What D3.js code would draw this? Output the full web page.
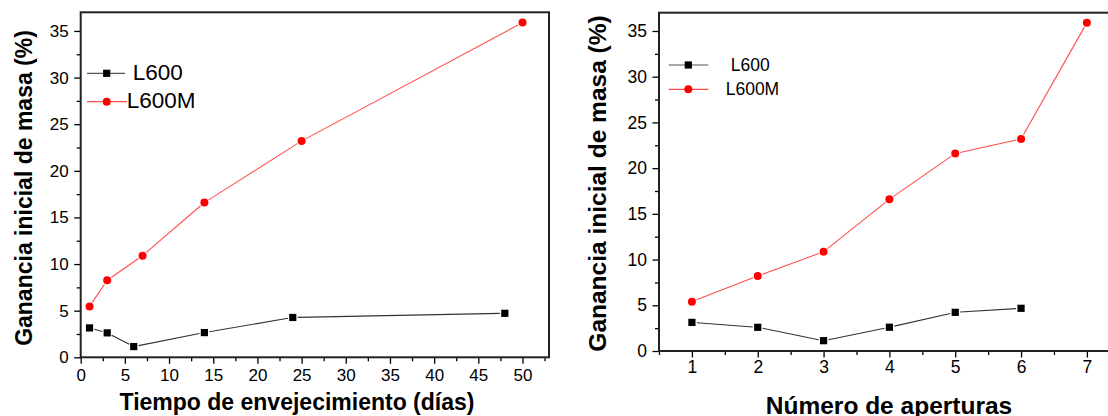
<!DOCTYPE html>
<html>
<head>
<meta charset="utf-8">
<script src="https://cdn.jsdelivr.net/npm/d3@7"></script>
<style>
  html, body { margin: 0; padding: 0; background: #fff; overflow: hidden; }
  svg { display: block; }
  text { font-family: "Liberation Sans", Arial, sans-serif; fill: #000; }
</style>
</head>
<body>
<svg id="chart" width="1108" height="416"></svg>
<script>
// ---------------- DATA ----------------
// Left panel: ageing time (days)
const daysL600 = [1, 3, 6, 14, 24, 48];
const gainDaysL600 = [3.15, 2.62, 1.15, 2.65, 4.27, 4.72];
const daysL600M = [1, 3, 7, 14, 25, 50];
const gainDaysL600M = [5.45, 8.25, 10.9, 16.6, 23.2, 35.9];
const daysTicks = [0, 5, 10, 15, 20, 25, 30, 35, 40, 45, 50];

// Right panel: number of openings
const openL600 = [1, 2, 3, 4, 5, 6];
const gainOpenL600 = [3.13, 2.59, 1.13, 2.6, 4.23, 4.67];
const openL600M = [1, 2, 3, 4, 5, 6, 7];
const gainOpenL600M = [5.4, 8.2, 10.85, 16.6, 21.6, 23.2, 35.9];
const openTicks = [1, 2, 3, 4, 5, 6, 7];

const yTicks = [0, 5, 10, 15, 20, 25, 30, 35];
const seriesNames = ["L600", "L600M"];
const yTitle = "Ganancia inicial de masa (%)";
const xTitleLeft = "Tiempo de envejecimiento (días)";
const xTitleRight = "Número de aperturas";

// ---------------- DRAW ----------------
const svg = d3.select("#chart");
const RED = "#ff0000";

function panel(cfg) {
  const g = svg.append("g");
  const x = d3.scaleLinear().domain(cfg.xDomain).range([cfg.left, cfg.right]);
  const y = d3.scaleLinear().domain([0, 37]).range([cfg.bottom, cfg.top]);

  // minor ticks
  const xMinor = cfg.xMinor;
  const yMinor = d3.range(2.5, 37, 5);
  g.append("g").attr("transform", `translate(0,${cfg.bottom})`)
    .call(d3.axisBottom(x).tickValues(xMinor).tickSize(4).tickFormat(""))
    .call(a => { a.select(".domain").remove(); a.selectAll("line").attr("stroke", "#000").attr("stroke-width", 1.3); });
  g.append("g").attr("transform", `translate(${cfg.left},0)`)
    .call(d3.axisLeft(y).tickValues(yMinor).tickSize(4).tickFormat(""))
    .call(a => { a.select(".domain").remove(); a.selectAll("line").attr("stroke", "#000").attr("stroke-width", 1.3); });

  // major ticks
  const xa = g.append("g").attr("transform", `translate(0,${cfg.bottom})`)
    .call(d3.axisBottom(x).tickValues(cfg.xTicks).tickSize(6.5).tickPadding(cfg.xPad).tickFormat(d3.format("d")));
  xa.select(".domain").remove();
  xa.selectAll("line").attr("stroke", "#000").attr("stroke-width", 1.3);
  xa.selectAll("text").attr("font-size", cfg.tickFont).attr("fill", "#111")
    .style("font-family", '"Liberation Sans", Arial, sans-serif');

  const ya = g.append("g").attr("transform", `translate(${cfg.left},0)`)
    .call(d3.axisLeft(y).tickValues(yTicks).tickSize(6.5).tickPadding(5.5).tickFormat(d3.format("d")));
  ya.select(".domain").remove();
  ya.selectAll("line").attr("stroke", "#000").attr("stroke-width", 1.3);
  ya.selectAll("text").attr("font-size", cfg.tickFont).attr("fill", "#111")
    .style("font-family", '"Liberation Sans", Arial, sans-serif');

  // frame
  g.append("rect")
    .attr("x", cfg.left).attr("y", cfg.top)
    .attr("width", cfg.right - cfg.left).attr("height", cfg.bottom - cfg.top)
    .attr("fill", "none").attr("stroke", "#222").attr("stroke-width", 2);

  // series with gap-to-symbol lines
  function series(xs, ys, color, lineColor, shape) {
    const pts = xs.map((d, i) => [x(d), y(ys[i])]);
    const gap = 5;
    for (let i = 0; i < pts.length - 1; i++) {
      const [x0, y0] = pts[i], [x1, y1] = pts[i + 1];
      const len = Math.hypot(x1 - x0, y1 - y0);
      if (len <= 2 * gap) continue;
      const ux = (x1 - x0) / len, uy = (y1 - y0) / len;
      g.append("line")
        .attr("x1", x0 + ux * gap).attr("y1", y0 + uy * gap)
        .attr("x2", x1 - ux * gap).attr("y2", y1 - uy * gap)
        .attr("stroke", lineColor).attr("stroke-width", 1.1);
    }
    pts.forEach(p => marker(g, p[0], p[1], shape, color));
  }
  series(cfg.l600x, cfg.l600y, "#000", "#333", "square");
  series(cfg.l600mx, cfg.l600my, RED, "#ff4d4d", "circle");

  // axis titles
  g.append("text")
    .attr("transform", `translate(${cfg.yTitleX},${cfg.yTitleY}) rotate(-90)`)
    .attr("text-anchor", "middle").attr("font-weight", "bold")
    .attr("font-size", cfg.titleFont).text(yTitle);
  g.append("text")
    .attr("x", cfg.xTitleX).attr("y", cfg.xTitleY)
    .attr("text-anchor", "middle").attr("font-weight", "bold")
    .attr("font-size", cfg.titleFont).text(cfg.xTitle);

  // legend
  const L = cfg.legend;
  const rows = [
    { name: seriesNames[0], shape: "square", color: "#000", line: "#555", y: L.y1, ty: L.ty1, tx: L.tx1, x2: L.x2a },
    { name: seriesNames[1], shape: "circle", color: RED, line: "#ff4d4d", y: L.y2, ty: L.ty2, tx: L.tx2, x2: L.x2b }
  ];
  rows.forEach(r => {
    g.append("line").attr("x1", L.x1).attr("x2", r.x2).attr("y1", r.y).attr("y2", r.y)
      .attr("stroke", r.line).attr("stroke-width", 1.2);
    marker(g, L.mx, r.y, r.shape, r.color);
    g.append("text").attr("x", r.tx).attr("y", r.ty).attr("font-size", L.font).text(r.name);
  });
}

function marker(g, cx, cy, shape, color) {
  if (shape === "square") {
    g.append("rect").attr("x", cx - 3.6).attr("y", cy - 3.6).attr("width", 7.2).attr("height", 7.2)
      .attr("fill", color);
  } else {
    g.append("circle").attr("cx", cx).attr("cy", cy).attr("r", 4).attr("fill", color);
  }
}

panel({
  left: 80.7, right: 549, top: 12.3, bottom: 357.3,
  xDomain: [0, 53], xTicks: daysTicks, xMinor: d3.range(2.5, 53, 5),
  xPad: 5, tickFont: 17,
  l600x: daysL600, l600y: gainDaysL600, l600mx: daysL600M, l600my: gainDaysL600M,
  titleFont: 23, yTitleX: 32, yTitleY: 188, xTitle: xTitleLeft, xTitleX: 297, xTitleY: 410,
  legend: { x1: 87, x2a: 125, x2b: 127, mx: 106.7, y1: 73.3, y2: 101.7,
            tx1: 132.7, tx2: 126.7, ty1: 79.5, ty2: 107.5, font: 22.5 }
});

panel({
  left: 659, right: 1119.8, top: 12.7, bottom: 351,
  xDomain: [0.5, 7.5], xTicks: openTicks, xMinor: d3.range(0.5, 7.6, 1),
  xPad: 3, tickFont: 17.5,
  l600x: openL600, l600y: gainOpenL600, l600mx: openL600M, l600my: gainOpenL600M,
  titleFont: 24.5, yTitleX: 606, yTitleY: 183.5, xTitle: xTitleRight, xTitleX: 889, xTitleY: 414,
  legend: { x1: 668.7, x2a: 708.3, x2b: 708.3, mx: 688.3, y1: 65, y2: 89.3,
            tx1: 730.7, tx2: 725.7, ty1: 71, ty2: 95.3, font: 17.5 }
});
</script>
</body>
</html>
